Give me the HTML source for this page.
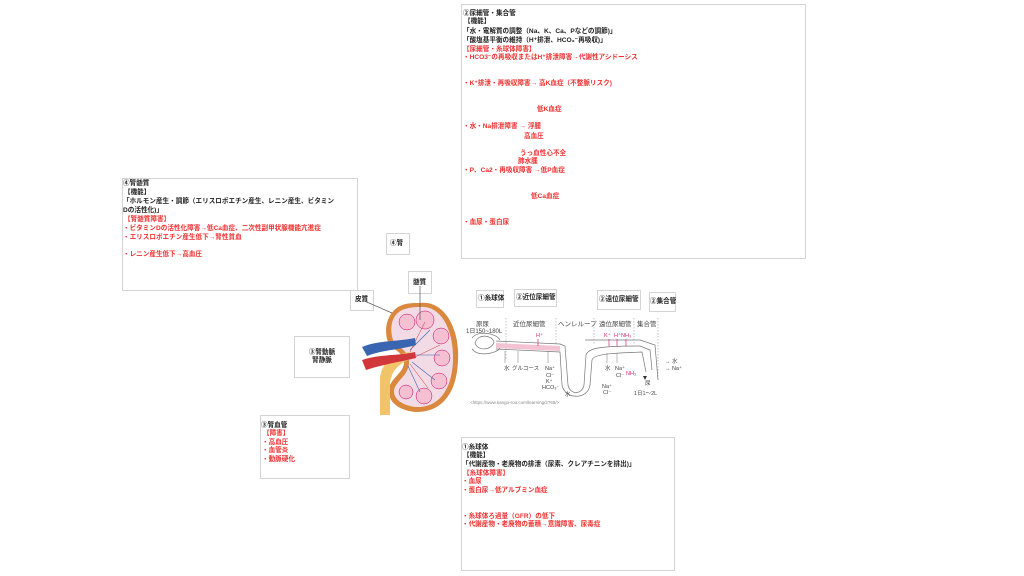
<!DOCTYPE html>
<html><head><meta charset="utf-8"><style>
body{margin:0;width:1024px;height:576px;background:#fff;position:relative;overflow:hidden;font-family:"Liberation Sans","Noto Sans CJK JP",sans-serif;}
.b{position:absolute;border:1px solid #d4d4d4;background:#fff;box-sizing:border-box;}
.t{position:absolute;font-size:6.6px;font-weight:bold;white-space:nowrap;line-height:8px;color:#222;}
.r{color:#ee3030;}
.c{text-align:center;}
</style></head><body>

<div class="b" style="left:461px;top:4px;width:345px;height:255px"></div>
<div class="t" style="left:463px;top:10px">②尿細管・集合管</div>
<div class="t" style="left:464px;top:18px">【機能】</div>
<div class="t" style="left:463px;top:28px">「水・電解質の調整（Na、K、Ca、Pなどの調節)」</div>
<div class="t" style="left:463px;top:37px">「酸塩基平衡の維持（H⁺排泄、HCO₃⁻再吸収)」</div>
<div class="t r" style="left:463px;top:46px">【尿細管・糸球体障害】</div>
<div class="t r" style="left:463px;top:54px">・HCO3⁻の再吸収またはH⁺排泄障害→代謝性アシドーシス</div>
<div class="t r" style="left:463px;top:80px">・K⁺排泄・再吸収障害→ 高K血症（不整脈リスク)</div>
<div class="t r" style="left:537px;top:106px">低K血症</div>
<div class="t r" style="left:463px;top:123px">・水・Na排泄障害 → 浮腫</div>
<div class="t r" style="left:524px;top:133px">高血圧</div>
<div class="t r" style="left:520px;top:150px">うっ血性心不全</div>
<div class="t r" style="left:518px;top:158px">肺水腫</div>
<div class="t r" style="left:463px;top:167px">・P、Ca2・再吸収障害 →低P血症</div>
<div class="t r" style="left:531px;top:193px">低Ca血症</div>
<div class="t r" style="left:463px;top:219px">・血尿・蛋白尿</div>

<div class="b" style="left:122px;top:178px;width:236px;height:113px"></div>
<div class="t" style="left:123px;top:180px">④腎髄質</div>
<div class="t" style="left:124px;top:189px">【機能】</div>
<div class="t" style="left:123px;top:198px">「ホルモン産生・調節（エリスロポエチン産生、レニン産生、ビタミン</div>
<div class="t" style="left:123px;top:207px">Dの活性化)」</div>
<div class="t r" style="left:124px;top:216px">【腎髄質障害】</div>
<div class="t r" style="left:123px;top:225px">・ビタミンDの活性化障害→低Ca血症、二次性副甲状腺機能亢進症</div>
<div class="t r" style="left:123px;top:234px">・エリスロポエチン産生低下→腎性貧血</div>
<div class="t r" style="left:123px;top:251px">・レニン産生低下→高血圧</div>

<div class="b" style="left:386px;top:233px;width:24px;height:22px"></div>
<div class="t" style="left:390px;top:240px">④腎</div>
<div class="b" style="left:408px;top:271px;width:24px;height:23px"></div>
<div class="t" style="left:413px;top:279px">髄質</div>
<div class="b" style="left:350px;top:290px;width:24px;height:21px"></div>
<div class="t" style="left:355px;top:296px">皮質</div>
<div class="b" style="left:294px;top:336px;width:56px;height:42px"></div>
<div class="t c" style="left:294px;top:349px;width:56px">③腎動脈<br>腎静脈</div>

<div class="b" style="left:260px;top:415px;width:90px;height:64px"></div>
<div class="t" style="left:261px;top:422px">③腎血管</div>
<div class="t r" style="left:263px;top:430px">【障害】</div>
<div class="t r" style="left:262px;top:439px">・高血圧</div>
<div class="t r" style="left:262px;top:447px">・血管炎</div>
<div class="t r" style="left:262px;top:456px">・動脈硬化</div>

<div class="b" style="left:461px;top:437px;width:214px;height:134px"></div>
<div class="t" style="left:462px;top:444px">①糸球体</div>
<div class="t" style="left:463px;top:452px">【機能】</div>
<div class="t" style="left:462px;top:461px">「代謝産物・老廃物の排泄（尿素、クレアチニンを排出)」</div>
<div class="t r" style="left:463px;top:470px">【糸球体障害】</div>
<div class="t r" style="left:462px;top:478px">・血尿</div>
<div class="t r" style="left:462px;top:487px">・蛋白尿→低アルブミン血症</div>
<div class="t r" style="left:462px;top:513px">・糸球体ろ過量（GFR）の低下</div>
<div class="t r" style="left:462px;top:521px">・代謝産物・老廃物の蓄積→意識障害、尿毒症</div>

<div class="b" style="left:476px;top:290px;width:28px;height:18px"></div>
<div class="t" style="left:478px;top:295px">①糸球体</div>
<div class="b" style="left:514px;top:289px;width:43px;height:18px"></div>
<div class="t" style="left:516px;top:294px">②近位尿細管</div>
<div class="b" style="left:597px;top:290px;width:44px;height:20px"></div>
<div class="t" style="left:599px;top:296px">②遠位尿細管</div>
<div class="b" style="left:649px;top:292px;width:27px;height:20px"></div>
<div class="t" style="left:650px;top:298px">②集合管</div>

<svg style="position:absolute;left:0;top:0" width="1024" height="576">
<path d="M420 303 C445 300 460 330 458 360 C457 395 440 413 415 412 C395 410 385 398 390 385 C394 376 404 372 404 362 C404 352 392 350 388 342 C383 328 388 312 400 306 C406 303 413 303 420 303Z" fill="#d9883e"/>
<path d="M420 307 C442 305 454 332 453 360 C452 392 437 408 416 407 C399 405 391 396 395 387 C399 379 409 374 409 362 C409 350 397 347 393 340 C389 327 392 315 402 310 C407 308 413 307 420 307Z" fill="#f3dbe6"/>
<g fill="#f5c0d2" stroke="#c06" stroke-width=".5">
<circle cx="407" cy="322" r="8"/><circle cx="425" cy="320" r="9"/><circle cx="441" cy="336" r="8"/><circle cx="442" cy="358" r="8"/><circle cx="439" cy="381" r="8"/><circle cx="424" cy="396" r="8"/><circle cx="406" cy="392" r="7"/>
</g>
<g stroke="#3a65b0" stroke-width=".6" fill="none"><path d="M410 350 L430 330 M412 355 L440 355 M412 362 L435 380 M408 366 L420 392"/></g>
<g stroke="#d0363a" stroke-width=".5" fill="none"><path d="M410 352 L425 322 M413 358 L440 345 M410 364 L428 388"/></g>
<path d="M380 415 L380 378 C382 362 392 355 410 352 L414 358 C400 362 392 370 390 382 L390 415Z" fill="#f2c46a"/>
<path d="M362 347 C380 340 395 342 415 338 L416 345 C398 350 382 350 367 356Z" fill="#3a65b0"/>
<path d="M362 360 C380 354 398 356 415 352 L416 358 C400 362 384 364 366 370Z" fill="#d0363a"/>
<line x1="362" y1="300" x2="392" y2="313" stroke="#555" stroke-width=".7"/>
<line x1="420" y1="286" x2="420" y2="320" stroke="#555" stroke-width=".7"/>

<g font-family="Liberation Sans,Noto Sans CJK JP,sans-serif" font-size="6.5" fill="#444">
<text x="476" y="326">原尿</text><text x="466" y="333" font-size="6">1日150~180L</text>
<text x="513" y="326">近位尿細管</text><text x="558" y="326">ヘンレループ</text>
<text x="599" y="326">遠位尿細管</text><text x="637" y="326">集合管</text>
</g>
<g stroke="#888" stroke-width=".5" fill="none" stroke-dasharray="1.5,1.5">
<line x1="506" y1="318" x2="506" y2="360"/><line x1="556" y1="318" x2="556" y2="345"/><line x1="594" y1="318" x2="594" y2="345"/><line x1="634" y1="318" x2="634" y2="345"/><line x1="658" y1="318" x2="658" y2="380"/>
</g>
<g stroke="#777" stroke-width=".7" fill="none">
<path d="M475 343 C478 333 492 335 494 342 C492 350 478 352 475 343Z"/>
<path d="M472 338 C478 330 496 333 500 340"/>
<path d="M472 349 C478 357 496 354 500 348"/>
<path d="M496 341 L560 344 L565 346 L568 385 C570 395 582 395 584 385 L586 355 C588 348 600 346 640 346 L650 350 L652 370"/>
<path d="M496 349 L560 352 L562 385 C565 400 588 400 590 385 L592 360 C594 353 620 353 642 352 L646 372"/>
<path d="M585 340 L640 340 L655 345 L658 380"/>
</g>
<path d="M496 343 L560 346 L560 351 L496 348Z" fill="#f3c3d4"/>
<g fill="#444" font-size="5.5" font-family="Liberation Sans,Noto Sans CJK JP,sans-serif">
<text x="504" y="370">水</text><text x="512" y="370">グルコース</text><text x="545" y="370">Na⁺</text><text x="546" y="377">Cl⁻</text><text x="546" y="383">K⁺</text><text x="542" y="389">HCO₃⁻</text>
<text x="565" y="396">水</text><text x="602" y="388">Na⁺</text><text x="603" y="394">Cl⁻</text>
<text x="605" y="370">水</text><text x="615" y="370">Na⁺</text><text x="616" y="377">Cl⁻</text>
<text x="665" y="363">→ 水</text><text x="665" y="370">→ Na⁺</text>
<text x="645" y="385">尿</text><text x="634" y="395">1日1～2L</text>
<text x="470" y="404" font-size="4.5" fill="#888">&lt;https://www.kango-roo.com/learning/2765/&gt;</text>
</g>
<g fill="#d4267a" font-size="5.5" font-family="Liberation Sans,Noto Sans CJK JP,sans-serif">
<text x="536" y="337">H⁺</text><text x="604" y="337">K⁺</text><text x="614" y="337">H⁺</text><text x="621" y="337">NH₃</text><text x="626" y="375">NH₃</text>
</g>
<g stroke="#d4267a" stroke-width=".7"><line x1="538" y1="339" x2="538" y2="346"/><line x1="609" y1="339" x2="609" y2="346"/><line x1="617" y1="339" x2="617" y2="346"/><line x1="626" y1="339" x2="626" y2="346"/></g>
<g stroke="#777" stroke-width=".5"><line x1="505" y1="351" x2="505" y2="363"/><line x1="518" y1="351" x2="518" y2="363"/><line x1="548" y1="351" x2="548" y2="363"/><line x1="607" y1="353" x2="607" y2="363"/><line x1="617" y1="353" x2="617" y2="363"/></g>
<polygon points="643,376 647,376 645,380" fill="#333"/>
</svg>
</body></html>
